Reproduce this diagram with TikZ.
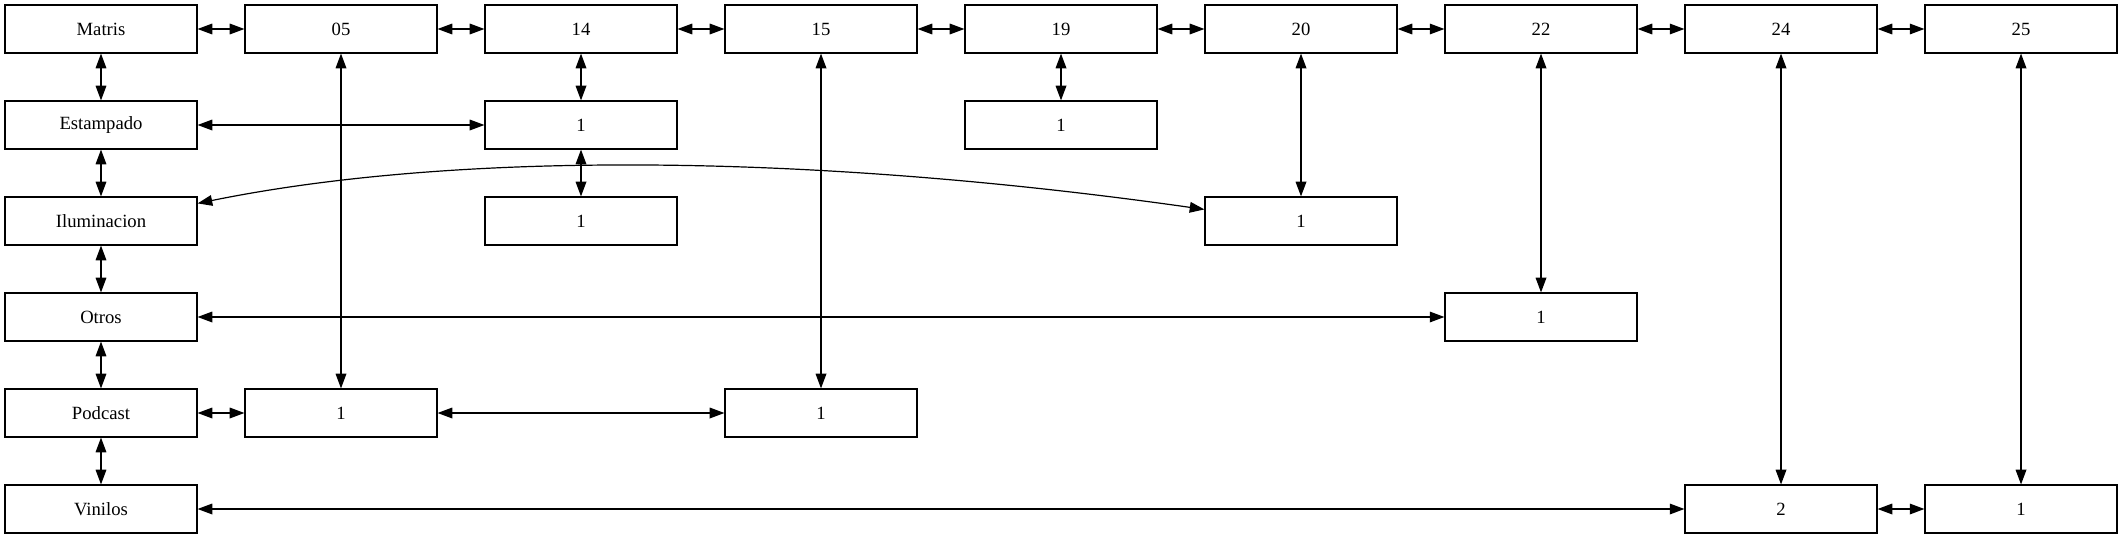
\documentclass[tikz,border=0pt]{standalone}
\usepackage{fontspec}
\setmainfont{Liberation Serif}
\usetikzlibrary{arrows.meta}
\begin{document}
\begin{tikzpicture}[x=0.75pt,y=-0.75pt,
  box/.style={draw,line width=0.9pt,minimum width=144pt,minimum height=36pt,inner sep=0pt,font=\fontsize{14}{16}\selectfont},
  link/.style={line width=0.9pt,{Triangle[length=11pt,width=8pt]}-{Triangle[length=11pt,width=8pt]}}]
\useasboundingbox (0,0) rectangle (2123,539);
% row 0
\node[box] (mat) at (101,29) {Matris};
\node[box] (c05) at (341,29) {05};
\node[box] (c14) at (581,29) {14};
\node[box] (c15) at (821,29) {15};
\node[box] (c19) at (1061,29) {19};
\node[box] (c20) at (1301,29) {20};
\node[box] (c22) at (1541,29) {22};
\node[box] (c24) at (1781,29) {24};
\node[box] (c25) at (2021,29) {25};
% column 0
\node[box] (est) at (101,125) {Estampado};
\node[box] (ilu) at (101,221) {Iluminacion};
\node[box] (otr) at (101,317) {Otros};
\node[box] (pod) at (101,413) {Podcast};
\node[box] (vin) at (101,509) {Vinilos};
% inner
\node[box] (aa) at (581,125) {1};
\node[box] (ab) at (581,221) {1};
\node[box] (ba) at (1061,125) {1};
\node[box] (ca) at (1301,221) {1};
\node[box] (da) at (1541,317) {1};
\node[box] (ea) at (341,413) {1};
\node[box] (eb) at (821,413) {1};
\node[box] (fa) at (1781,509) {2};
\node[box] (fb) at (2021,509) {1};
% top row links
\draw[link] (mat) -- (c05);
\draw[link] (c05) -- (c14);
\draw[link] (c14) -- (c15);
\draw[link] (c15) -- (c19);
\draw[link] (c19) -- (c20);
\draw[link] (c20) -- (c22);
\draw[link] (c22) -- (c24);
\draw[link] (c24) -- (c25);
% column 0 links
\draw[link] (mat) -- (est);
\draw[link] (est) -- (ilu);
\draw[link] (ilu) -- (otr);
\draw[link] (otr) -- (pod);
\draw[link] (pod) -- (vin);
% others
\draw[link] (c05) -- (ea);
\draw[link] (c14) -- (aa);
\draw[link] (est) -- (aa);
\draw[link] (aa) -- (ab);
\draw[link] (c15) -- (eb);
\draw[link] (c19) -- (ba);
\draw[link] (c20) -- (ca);
\draw[link] ([yshift=-5.25pt]ilu.north east) .. controls (450,152) and (800,152) .. ([yshift=-9.75pt]ca.north west);
\draw[link] (c22) -- (da);
\draw[link] (otr) -- (da);
\draw[link] (pod) -- (ea);
\draw[link] (ea) -- (eb);
\draw[link] (c24) -- (fa);
\draw[link] (c25) -- (fb);
\draw[link] (vin) -- (fa);
\draw[link] (fa) -- (fb);
\end{tikzpicture}
\end{document}
